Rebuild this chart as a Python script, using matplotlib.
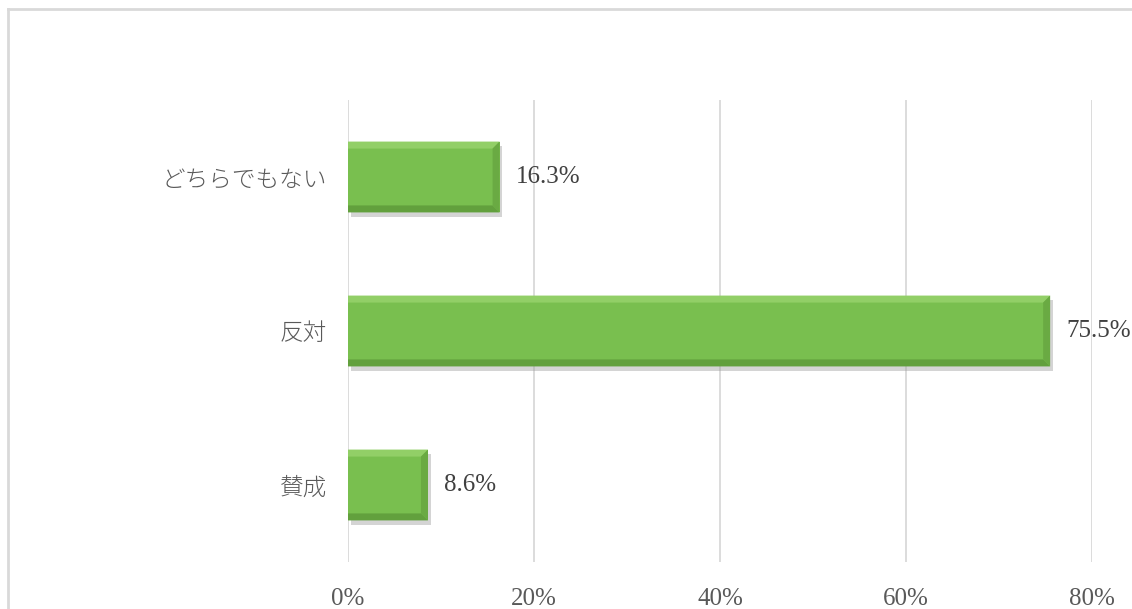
import matplotlib
matplotlib.use("Agg")
import matplotlib.pyplot as plt
from matplotlib.patches import Polygon
from matplotlib.lines import Line2D
import matplotlib.patheffects as pe

categories = ["賛成", "反対", "どちらでもない"]
values = [8.6, 75.5, 16.3]
xticks = [0, 20, 40, 60, 80]
xtick_labels = ["0%", "20%", "40%", "60%", "80%"]

W, H = 1132, 609
fig = plt.figure(figsize=(W / 100, H / 100), dpi=100)
fig.patch.set_facecolor("white")

ax = fig.add_axes([348 / W, 1 - 562 / H, (1092 - 348) / W, (562 - 100) / H])
ax.set_xlim(0, 80)
ax.set_ylim(-0.5, 2.5)

for xv in xticks:
    ax.axvline(xv, color="#D9D9D9", lw=1.3, zorder=0)

ypos = list(range(len(categories)))
bar_h = 0.46
bars = ax.barh(ypos, values, height=bar_h, color="#79BF4F", edgecolor="none", zorder=2,
               path_effects=[pe.SimplePatchShadow(offset=(2, -3), shadow_rgbFace="#a0a0a0", alpha=0.45), pe.Normal()])

# bevel effect derived from each bar's rectangle
px_x = (1092 - 348) / 80
px_y = (562 - 100) / 3
bx = 7 / px_x
by = 7 / px_y
for b in bars:
    x0, y0 = b.get_x(), b.get_y()
    x1, y1 = x0 + b.get_width(), y0 + b.get_height()
    top = Polygon([(x0, y1), (x1, y1), (x1 - bx, y1 - by), (x0, y1 - by)], closed=True,
                  facecolor="#92CF67", edgecolor="none", zorder=3)
    bot = Polygon([(x0, y0), (x1, y0), (x1 - bx, y0 + by), (x0, y0 + by)], closed=True,
                  facecolor="#62A03D", edgecolor="none", zorder=3)
    right = Polygon([(x1, y0), (x1, y1), (x1 - bx, y1 - by), (x1 - bx, y0 + by)], closed=True,
                    facecolor="#6AAA43", edgecolor="none", zorder=3)
    for p in (top, bot, right):
        ax.add_patch(p)
    ax.text(x1 + 16 / px_x, b.get_y() + b.get_height() / 2, f"{b.get_width():.1f}%",
            va="center", ha="left", fontsize=18, color="#404040", family="Liberation Serif", zorder=4)

ax.set_yticks(ypos)
ax.set_yticklabels(categories, fontsize=17, color="#595959", fontweight="light",
                   family=["Noto Sans CJK JP", "DejaVu Sans"])
ax.set_xticks(xticks)
ax.set_xticklabels(xtick_labels, fontsize=18, color="#595959", family="Liberation Serif")
ax.tick_params(axis="y", length=0, pad=15)
ax.tick_params(axis="x", length=0, pad=19)
for s in ax.spines.values():
    s.set_visible(False)
ax.set_facecolor("none")

# chart area border (top and left visible)
fig.add_artist(Line2D([8 / W, 8 / W], [1 - 9 / H, 0], transform=fig.transFigure, color="#D9D9D9", lw=2))
fig.add_artist(Line2D([8 / W, 1], [1 - 9 / H, 1 - 9 / H], transform=fig.transFigure, color="#D9D9D9", lw=2))

fig.savefig("out.png", dpi=100)
